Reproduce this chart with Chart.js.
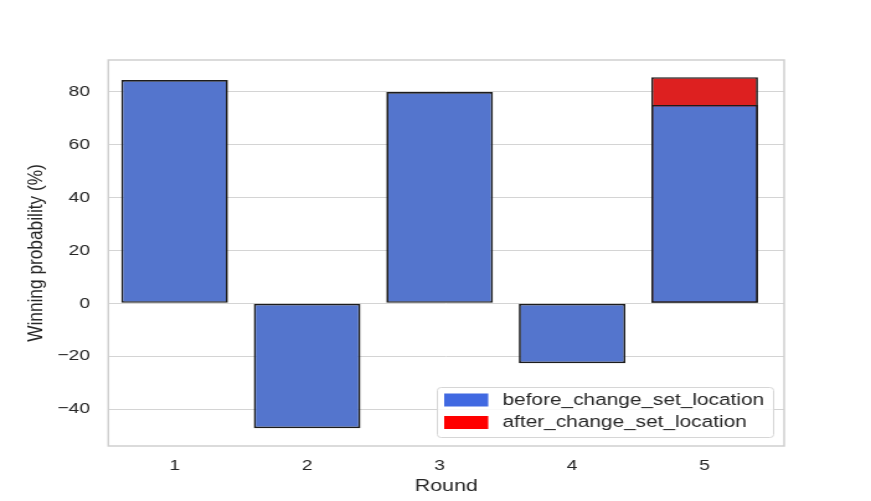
<!DOCTYPE html>
<html>
<head>
<meta charset="utf-8">
<script src="https://cdn.jsdelivr.net/npm/chart.js@4/dist/chart.umd.min.js"></script>
<style>
  html, body { margin: 0; padding: 0; background: #fff; overflow: hidden; }
  /* the reference image is stretched horizontally, so draw narrow and stretch */
  #wrap { width: 702px; height: 501px; transform: scaleX(1.24074); transform-origin: 0 0; }
</style>
</head>
<body>
<div id="wrap"><canvas id="chart"></canvas></div>
<script>
// --- DATA ---
const rounds = [1, 2, 3, 4, 5];
const beforeChange = [84.5, -47.3, 80.0, -22.7, 75.1];
const afterChange = [null, null, null, null, 85.6];
const yTicks = [-40, -20, 0, 20, 40, 60, 80];
const seriesLabels = ['before_change_set_location', 'after_change_set_location'];

// --- STYLE ---
const textColor = '#262626';
const gridColor = '#d4d4d4';
const edgeColor = '#1c1c1c';
const fontFamily = "'Liberation Sans', Arial, Helvetica, sans-serif";
const legendColors = ['#4169e1', '#ff0000'];

const toPoints = (vals) => rounds
    .map((r, i) => ({ x: r, y: vals[i] }))
    .filter(p => p.y !== null);

// plot frame (seaborn whitegrid draws a full light box)
const framePlugin = {
    id: 'frame',
    beforeDatasetsDraw(chart) {
        const { ctx, chartArea: a } = chart;
        ctx.save();
        ctx.strokeStyle = '#cfcfcf';
        ctx.lineWidth = 1.5;
        ctx.strokeRect(a.left, a.top, a.right - a.left, a.bottom - a.top);
        ctx.restore();
    }
};

// legend drawn inside the plot, lower right
const insideLegend = {
    id: 'insideLegend',
    afterDraw(chart) {
        const { ctx } = chart;
        const x = 352, y = 387, w = 271, h = 50;
        ctx.save();
        ctx.fillStyle = 'rgba(255,255,255,0.85)';
        ctx.strokeStyle = '#d6d6d6';
        ctx.lineWidth = 1;
        ctx.beginPath();
        ctx.roundRect(x + 0.5, y + 0.5, w, h, 3);
        ctx.fill();
        ctx.stroke();
        ctx.font = '16.8px ' + fontFamily;
        ctx.textBaseline = 'middle';
        chart.data.datasets.forEach((ds, i) => {
            const rowY = y + 13 + i * 22.5;
            ctx.fillStyle = legendColors[i];
            ctx.fillRect(x + 6, rowY - 6.5, 35.5, 13);
            ctx.fillStyle = textColor;
            ctx.fillText(ds.label, x + 53, rowY);
        });
        ctx.restore();
    }
};

new Chart(document.getElementById('chart'), {
    type: 'bar',
    data: {
        datasets: [
            {
                label: seriesLabels[0],
                data: toPoints(beforeChange),
                backgroundColor: '#5475cd',
                borderColor: edgeColor,
                borderWidth: 1.7,
                borderSkipped: false
            },
            {
                label: seriesLabels[1],
                data: toPoints(afterChange),
                backgroundColor: '#dd2020',
                borderColor: edgeColor,
                borderWidth: 1.7,
                borderSkipped: false
            }
        ]
    },
    options: {
        responsive: true,
        maintainAspectRatio: false,
        animation: false,
        grouped: false,
        barPercentage: 0.805,
        categoryPercentage: 1,
        layout: { padding: { top: 60, right: 70, bottom: 0, left: 0 } },
        plugins: { legend: { display: false }, tooltip: { enabled: false } },
        scales: {
            x: {
                type: 'linear',
                min: 0.5,
                max: 5.6,
                offset: false,
                afterFit: (s) => { s.height = 55; },
                afterBuildTicks: (s) => { s.ticks = rounds.map(v => ({ value: v })); },
                grid: { display: false, drawTicks: false },
                border: { display: false },
                ticks: {
                    padding: 10,
                    color: textColor,
                    font: { family: fontFamily, size: 15.5 },
                    callback: (v) => String(v)
                },
                title: {
                    display: true,
                    text: 'Round',
                    color: textColor,
                    font: { family: fontFamily, size: 17.3 },
                    padding: { top: 0, bottom: 4 }
                }
            },
            y: {
                min: -54,
                max: 92.1,
                afterFit: (s) => { s.width = 87.3; },
                afterBuildTicks: (s) => { s.ticks = yTicks.map(v => ({ value: v })); },
                grid: { color: gridColor, lineWidth: 1, drawTicks: false },
                border: { display: false },
                ticks: {
                    padding: 14.8,
                    color: textColor,
                    font: { family: fontFamily, size: 15.5 },
                    callback: (v) => v < 0 ? '\u2212' + Math.abs(v) : String(v)
                },
                title: {
                    display: true,
                    text: 'Winning probability (%)',
                    color: textColor,
                    font: { family: fontFamily, size: 17.3 },
                    padding: { top: 19, bottom: 0 }
                }
            }
        }
    },
    plugins: [framePlugin, insideLegend]
});
</script>
</body>
</html>
